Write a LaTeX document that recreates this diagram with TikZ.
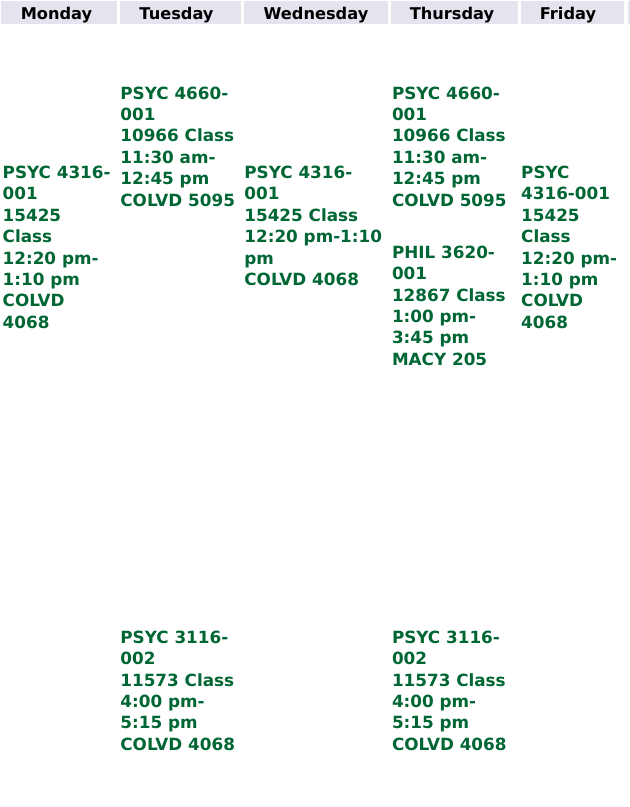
\documentclass[tikz,border=0pt]{standalone}
\usepackage{fontspec}
\setmainfont{DejaVu Sans}
\definecolor{headbg}{HTML}{E4E4EF}
\definecolor{classgreen}{HTML}{006633}
\begin{document}
\begin{tikzpicture}[x=1pt,y=-1pt,
    day/.style={font=\bfseries\fontsize{16.2}{20}\selectfont,anchor=base,inner sep=0pt},
    slot/.style={font=\bfseries\fontsize{16.8}{21.4}\selectfont,text=classgreen,align=left,anchor=base west,inner sep=0pt}]
  \useasboundingbox (0,0) rectangle (630,807);
  % header row
  \foreach \l/\r/\c/\d in {1/117/56.5/Monday,120/241/176.5/Tuesday,244/388/316/Wednesday,391/518/452/Thursday,521/624/568/Friday}{
    \fill[headbg] (\l,1) rectangle (\r,24);
    \node[day] (\d) at (\c,19.3) {\d};}
  \fill[headbg] (628,1) rectangle (630,24);
  % classes (placed at the baseline of their last line)
  \node[slot] (mon) at (2.5,328.3) {PSYC 4316-\\001\\15425\\Class\\12:20 pm-\\1:10 pm\\COLVD\\4068};
  \node[slot] (tue1) at (120.2,206) {PSYC 4660-\\001\\10966 Class\\11:30 am-\\12:45 pm\\COLVD 5095};
  \node[slot] (wed) at (244.2,285.5) {PSYC 4316-\\001\\15425 Class\\12:20 pm-1:10\\pm\\COLVD 4068};
  \node[slot] (thu1) at (391.8,206) {PSYC 4660-\\001\\10966 Class\\11:30 am-\\12:45 pm\\COLVD 5095};
  \node[slot] (thu2) at (391.8,365.3) {PHIL 3620-\\001\\12867 Class\\1:00 pm-\\3:45 pm\\MACY 205};
  \node[slot] (fri) at (521,328.3) {PSYC\\4316-001\\15425\\Class\\12:20 pm-\\1:10 pm\\COLVD\\4068};
  \node[slot] (tue2) at (120.2,750.3) {PSYC 3116-\\002\\11573 Class\\4:00 pm-\\5:15 pm\\COLVD 4068};
  \node[slot] (thu3) at (391.8,750.3) {PSYC 3116-\\002\\11573 Class\\4:00 pm-\\5:15 pm\\COLVD 4068};
\end{tikzpicture}
\end{document}
